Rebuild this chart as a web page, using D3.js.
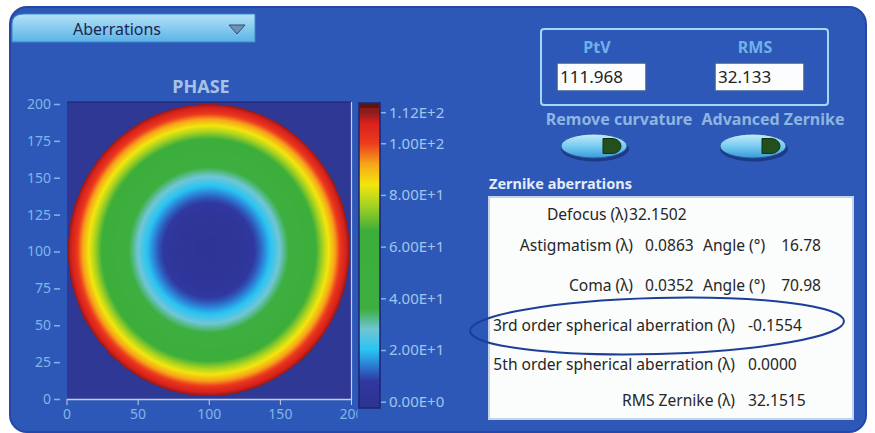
<!DOCTYPE html>
<html>
<head>
<meta charset="utf-8">
<script src="https://cdn.jsdelivr.net/npm/d3@7"></script>
<style>
  body { margin: 0; background: #ffffff; }
  svg { display: block; }
  text { font-family: "Noto Sans", "Open Sans", sans-serif; }
</style>
</head>
<body>
<div id="panel"></div>
<script>
// values
const xTicks = [0, 50, 100, 150, 200];
const yTicks = [0, 25, 50, 75, 100, 125, 150, 175, 200];
const cbTicks = [0, 20, 40, 60, 80, 100, 112];
const cbTickLabels = ["0.00E+0", "2.00E+1", "4.00E+1", "6.00E+1", "8.00E+1", "1.00E+2", "1.12E+2"];

// radial phase profile (fraction of pupil radius -> phase)
const profileR = [0, 0.2, 0.3, 0.36, 0.44, 0.52, 0.6, 0.73, 0.83, 0.9, 0.95, 1.0];
const profileV = [0, 2, 6, 11, 20, 30, 40, 60, 80, 93, 104, 112];
const pupilCenter = [100, 101];
const pupilRadius = 99;

// colour map of the colour bar
const cmapValues = [0, 8, 14, 20, 28, 36, 66, 76, 84, 92, 100, 108, 112];
const cmapColors = ["#2e3494", "#3038a0", "#2c7cd4", "#29c4f2", "#70c6d6", "#3caf40", "#3cae3a",
                    "#a6d222", "#f2e60c", "#f7a51a", "#ec3b1e", "#d7201c", "#8a1c1c"];

const stats = ["PtV", "RMS"];
const statValues = ["111.968", "32.133"];
const switches = ["Remove curvature", "Advanced Zernike"];

const rowLabels = ["Defocus (λ)", "Astigmatism (λ)", "Coma (λ)", "3rd order spherical aberration (λ)",
                   "5th order spherical aberration (λ)", "RMS Zernike (λ)"];
const rowValues = ["32.1502", "0.0863", "0.0352", "-0.1554", "0.0000", "32.1515"];
const angleValues = [null, "16.78", "70.98", null, null, null];

const W = 875, H = 433;
const panelColor = "#2e58b8";
const tickColor = "#7db6ea";

const svg = d3.select("#panel").append("svg").attr("width", W).attr("height", H);
const defs = svg.append("defs");

// panel
svg.append("rect").attr("x", 10).attr("y", 7).attr("width", 856).attr("height", 425)
    .attr("rx", 17).attr("fill", panelColor).attr("stroke", "#2547a8").attr("stroke-width", 2);

// tab
const tabGrad = defs.append("linearGradient").attr("id", "tabGrad").attr("x1", 0).attr("y1", 0).attr("x2", 0).attr("y2", 1);
tabGrad.append("stop").attr("offset", "0%").attr("stop-color", "#b4e2f7");
tabGrad.append("stop").attr("offset", "100%").attr("stop-color", "#5bb3e6");
svg.append("path")
    .attr("d", "M12,42 L12,24 Q12,14 24,14 L255,14 L255,42 Z")
    .attr("fill", "url(#tabGrad)").attr("stroke", "#3d86c8").attr("stroke-width", 1);
svg.append("text").attr("x", 117).attr("y", 35).attr("text-anchor", "middle")
    .attr("font-size", 16).attr("fill", "#1b2552").text("Aberrations");
svg.append("path").attr("d", "M229,25 L245,25 L237,34 Z")
    .attr("fill", "#6f93b4").attr("stroke", "#2e4f74").attr("stroke-width", 1);

// phase plot
const x = d3.scaleLinear().domain([0, 200]).range([66.5, 351]);
const y = d3.scaleLinear().domain([0, 200]).range([399, 104]);

svg.append("text").attr("x", 201).attr("y", 93).attr("text-anchor", "middle")
    .attr("font-size", 18).attr("font-weight", "bold").attr("fill", "#a6c2e6").text("PHASE");

const radiusToPhase = d3.scaleLinear().domain(profileR).range(profileV).clamp(true);
const colour = d3.scaleLinear().domain(cmapValues).range(cmapColors).clamp(true);

const px0 = Math.round(x(0)), px1 = Math.round(x(200));
const py0 = Math.round(y(200)) - 2, py1 = Math.round(y(0));
const cw = px1 - px0, ch = py1 - py0;
const canvas = document.createElement("canvas");
canvas.width = cw; canvas.height = ch;
const ctx = canvas.getContext("2d");
const img = ctx.createImageData(cw, ch);
const bg = d3.rgb("#303896");
for (let j = 0; j < ch; j++) {
  for (let i = 0; i < cw; i++) {
    const dx = x.invert(px0 + i + 0.5) - pupilCenter[0];
    const dy = y.invert(py0 + j + 0.5) - pupilCenter[1];
    const r = Math.sqrt(dx * dx + dy * dy) / pupilRadius;
    const c = r <= 1 ? d3.rgb(colour(radiusToPhase(r))) : bg;
    const k = (j * cw + i) * 4;
    img.data[k] = c.r; img.data[k + 1] = c.g; img.data[k + 2] = c.b; img.data[k + 3] = 255;
  }
}
ctx.putImageData(img, 0, 0);
svg.append("image").attr("x", px0).attr("y", py0).attr("width", cw).attr("height", ch)
    .attr("preserveAspectRatio", "none").attr("href", canvas.toDataURL());
svg.append("line").attr("x1", px0).attr("x2", px1).attr("y1", py0).attr("y2", py0)
    .attr("stroke", "#1d2266").attr("stroke-width", 1);
svg.append("line").attr("x1", px1 + 0.5).attr("x2", px1 + 0.5).attr("y1", py0).attr("y2", py1)
    .attr("stroke", "#c3cde4").attr("stroke-width", 1.2);

// x axis
const xAxisG = svg.append("g").attr("transform", "translate(0," + py1 + ")")
    .call(d3.axisBottom(x).tickValues(xTicks).tickSize(6).tickSizeOuter(0).tickPadding(4));
xAxisG.select(".domain").attr("stroke", "#c3cde4").attr("stroke-width", 1.5);
xAxisG.selectAll(".tick line").attr("stroke", "#c3cde4");
xAxisG.selectAll(".tick text").attr("fill", tickColor).attr("font-size", 14)
    .attr("font-family", "DejaVu Sans");

// y axis
const yAxisG = svg.append("g").attr("transform", "translate(60,0)")
    .call(d3.axisLeft(y).tickValues(yTicks).tickSize(6).tickPadding(3));
yAxisG.select(".domain").remove();
yAxisG.selectAll(".tick line").attr("stroke", tickColor).attr("stroke-width", 1.5);
yAxisG.selectAll(".tick text").attr("fill", tickColor).attr("font-size", 14)
    .attr("font-family", "DejaVu Sans");

// colour bar
const cb = d3.scaleLinear().domain([0, 112]).range([401.7, 112.2]);
svg.append("rect").attr("x", 357.5).attr("y", 98).attr("width", 26).attr("height", 330).attr("fill", panelColor);
const cbGrad = defs.append("linearGradient").attr("id", "cbGrad")
    .attr("gradientUnits", "userSpaceOnUse").attr("x1", 0).attr("x2", 0)
    .attr("y1", cb(0)).attr("y2", cb(112));
cmapValues.forEach((v, i) => {
  cbGrad.append("stop").attr("offset", (v / 112 * 100) + "%").attr("stop-color", cmapColors[i]);
});
svg.append("rect").attr("x", 359).attr("y", 103).attr("width", 21).attr("height", 305)
    .attr("fill", "url(#cbGrad)").attr("stroke", "#1e2470").attr("stroke-width", 1.5);
svg.append("rect").attr("x", 360).attr("y", 104).attr("width", 19).attr("height", 4).attr("fill", "#5a1414");

const cbAxis = svg.append("g").attr("transform", "translate(381,0)")
    .call(d3.axisRight(cb).tickValues(cbTicks).tickSize(5).tickPadding(3)
      .tickFormat((d, i) => cbTickLabels[i]));
cbAxis.select(".domain").remove();
cbAxis.selectAll(".tick line").attr("stroke", tickColor).attr("stroke-width", 1.5);
cbAxis.selectAll(".tick text").attr("fill", "#9fc6ec").attr("font-size", 15)
    .attr("font-family", "DejaVu Sans");

// PtV / RMS group
svg.append("rect").attr("x", 541).attr("y", 29).attr("width", 287).attr("height", 76)
    .attr("rx", 3).attr("fill", "none").attr("stroke", "#a8d6f2").attr("stroke-width", 2);
const statX = [557, 715];
const statLabelX = [597, 755];
stats.forEach((s, i) => {
  svg.append("text").attr("x", statLabelX[i]).attr("y", 53).attr("text-anchor", "middle")
      .attr("font-size", 16).attr("font-weight", "bold").attr("fill", "#6fb2ea").text(s);
  svg.append("rect").attr("x", statX[i]).attr("y", 63).attr("width", 89).attr("height", 28)
      .attr("fill", "#fbfdff").attr("stroke", "#3a5e9c").attr("stroke-width", 1.5);
  svg.append("text").attr("x", statX[i] + 3).attr("y", 83)
      .attr("font-size", 17).attr("fill", "#222").text(statValues[i]);
});

// switches
const swGrad = defs.append("linearGradient").attr("id", "swGrad").attr("x1", 0).attr("y1", 0).attr("x2", 0).attr("y2", 1);
swGrad.append("stop").attr("offset", "0%").attr("stop-color", "#c4ecfb");
swGrad.append("stop").attr("offset", "55%").attr("stop-color", "#72c8ef");
swGrad.append("stop").attr("offset", "100%").attr("stop-color", "#3a9ad6");
const swLabelX = [619, 773];
const swCx = [594, 753];
switches.forEach((s, i) => {
  svg.append("text").attr("x", swLabelX[i]).attr("y", 125).attr("text-anchor", "middle")
      .attr("font-size", 16).attr("font-weight", "bold").attr("fill", "#8cb6e0").text(s);
  const cx = swCx[i], cy = 146;
  svg.append("ellipse").attr("cx", cx + 1).attr("cy", cy + 3).attr("rx", 34).attr("ry", 12.5).attr("fill", "#1c3a86");
  svg.append("ellipse").attr("cx", cx).attr("cy", cy).attr("rx", 33).attr("ry", 12)
      .attr("fill", "url(#swGrad)").attr("stroke", "#2a5a9e").attr("stroke-width", 1);
  svg.append("path")
      .attr("d", "M" + (cx + 9) + "," + (cy - 7.5) + " L" + (cx + 18) + "," + (cy - 7.5) +
        " A9,7.5 0 0 1 " + (cx + 18) + "," + (cy + 7.5) + " L" + (cx + 9) + "," + (cy + 7.5) + " Z")
      .attr("fill", "#22501c").attr("stroke", "#12300f").attr("stroke-width", 1);
});

// zernike table
svg.append("text").attr("x", 489).attr("y", 189).attr("font-size", 14.5).attr("font-weight", "bold")
    .attr("fill", "#e4ecf8").text("Zernike aberrations");
svg.append("rect").attr("x", 489).attr("y", 197).attr("width", 364).attr("height", 222)
    .attr("fill", "#fbfcfc").attr("stroke", "#c6d3e6").attr("stroke-width", 2);

const rowY = [220, 251, 291, 331, 370, 406];
const labelEnd = [628, 633, 633, 735, 735, 735];
const valueStart = [629, 645, 645, 748, 748, 748];
const tableFont = 15.6;
rowLabels.forEach((lab, i) => {
  svg.append("text").attr("x", labelEnd[i]).attr("y", rowY[i]).attr("text-anchor", "end")
      .attr("font-size", tableFont).attr("fill", "#262626").text(lab);
  svg.append("text").attr("x", valueStart[i]).attr("y", rowY[i])
      .attr("font-size", tableFont).attr("fill", "#262626").text(rowValues[i]);
  if (angleValues[i]) {
    svg.append("text").attr("x", 703).attr("y", rowY[i])
        .attr("font-size", tableFont).attr("fill", "#262626").text("Angle (°)");
    svg.append("text").attr("x", 821).attr("y", rowY[i]).attr("text-anchor", "end")
        .attr("font-size", tableFont).attr("fill", "#262626").text(angleValues[i]);
  }
});

// hand drawn highlight
svg.append("ellipse").attr("cx", 657).attr("cy", 326).attr("rx", 187).attr("ry", 28)
    .attr("fill", "none").attr("stroke", "#1d3e98").attr("stroke-width", 2)
    .attr("transform", "rotate(-1.5,657,326)");
</script>
</body>
</html>
